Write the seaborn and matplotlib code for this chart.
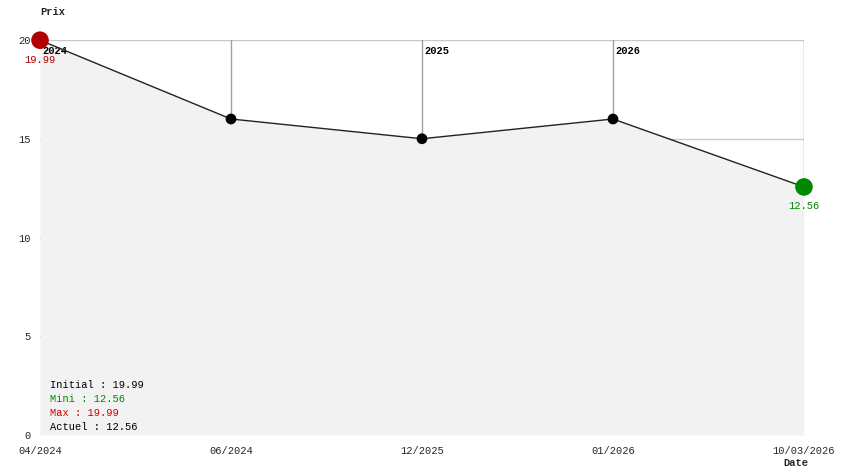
import matplotlib
matplotlib.use("Agg")
import matplotlib.pyplot as plt
import seaborn as sns
import pandas as pd

dates = ["04/2024", "06/2024", "12/2025", "01/2026", "10/03/2026"]
prices = [19.99, 16.0, 15.0, 16.0, 12.56]
year_labels = ["2024", "2025", "2026"]
year_pos = [0, 2, 3]
yticks = [0, 5, 10, 15, 20]

sns.set_theme(style="white")
plt.rcParams['font.family'] = ['Liberation Mono', 'DejaVu Sans Mono']
FS = 7.5

df = pd.DataFrame({"x": range(len(dates)), "price": prices, "date": dates})

fig = plt.figure(figsize=(8.44, 4.74), dpi=100)
ax = fig.add_axes([40/844, 39/474, 764/844, 395/474])

ax.fill_between(df["x"], df["price"], 0, color="#f2f2f2", zorder=1, linewidth=0)
sns.lineplot(data=df, x="x", y="price", ax=ax, color="#222222", linewidth=1, zorder=3)
sns.scatterplot(data=df.iloc[1:-1], x="x", y="price", ax=ax, color="black", s=60,
                edgecolor="none", zorder=4, legend=False, clip_on=False)
sns.scatterplot(data=df.iloc[[0]], x="x", y="price", ax=ax, color="#b00000", s=160,
                edgecolor="none", zorder=5, legend=False, clip_on=False)
sns.scatterplot(data=df.iloc[[-1]], x="x", y="price", ax=ax, color="#008800", s=160,
                edgecolor="none", zorder=5, legend=False, clip_on=False)

ax.set_xlim(0, len(dates) - 1)
ax.set_ylim(0, 20)
ax.set_xticks(range(len(dates)))
ax.set_xticklabels(dates, fontsize=FS)
ax.set_yticks(yticks)
ax.set_yticklabels([str(v) for v in yticks], fontsize=FS)
ax.tick_params(axis="x", length=0, pad=8)
ax.tick_params(axis="y", length=0, pad=7)
ax.set_xlabel("")
ax.set_ylabel("")
for s in ax.spines.values():
    s.set_visible(False)

# gridlines (behind fill)
for v in yticks[1:]:
    ax.axhline(v, color="#c8c8c8", linewidth=1, zorder=0)
for i in range(1, len(dates)):
    ax.axvline(i, color="#a0a0a0", linewidth=1, zorder=0)

for lbl, p in zip(year_labels, year_pos):
    ax.annotate(lbl, (p, 20), xytext=(2, -8), textcoords="offset points",
                fontsize=FS, fontweight="bold", color="black", zorder=2, va="center")

ax.annotate(f"{prices[0]:.2f}", (0, prices[0]), xytext=(0, -14.5), textcoords="offset points",
            ha="center", va="center", fontsize=FS, color="#aa0000", zorder=6,
            annotation_clip=False)
ax.annotate(f"{prices[-1]:.2f}", (len(dates) - 1, prices[-1]), xytext=(0, -14),
            textcoords="offset points", ha="center", va="center", fontsize=FS,
            color="#008800", zorder=6, annotation_clip=False)

legend_lines = [
    (f"Initial : {prices[0]:.2f}", "black"),
    (f"Mini : {min(prices):.2f}", "#008800"),
    (f"Max : {max(prices):.2f}", "#cc0000"),
    (f"Actuel : {prices[-1]:.2f}", "black"),
]
for k, (t, c) in enumerate(legend_lines):
    fig.text(50/844, 1 - (385 + 14*k)/474, t, fontsize=FS, color=c, va="center", ha="left")

fig.text(40/844, 1 - 12/474, "Prix", fontsize=FS, fontweight="bold", va="center", ha="left")
fig.text(783/844, 1 - 463/474, "Date", fontsize=FS, fontweight="bold", va="center", ha="left")

fig.savefig("out.png", dpi=100)
